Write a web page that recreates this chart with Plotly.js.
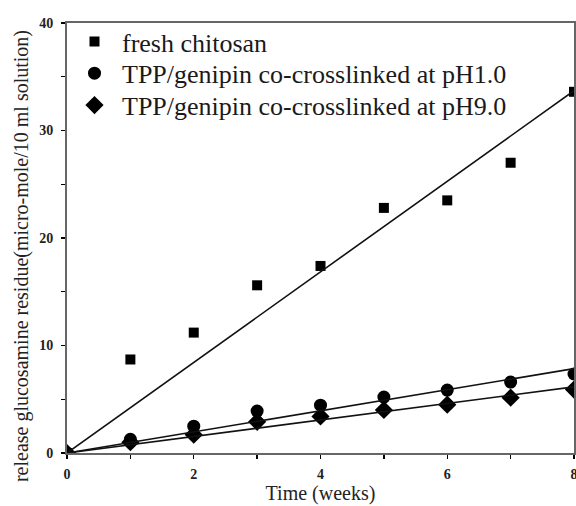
<!DOCTYPE html>
<html>
<head>
<meta charset="utf-8">
<script src="https://cdn.plot.ly/plotly-3.0.1.min.js"></script>
<style>html,body{margin:0;padding:0;background:#fff;}#chart{width:576px;height:506px;}</style>
</head>
<body>
<div id="chart"></div>
<script>
// Data
const weeks = [0, 1, 2, 3, 4, 5, 6, 7, 8];
const freshChitosan = [0, 8.7, 11.2, 15.6, 17.4, 22.8, 23.5, 27.0, 33.6];
const tppPH1 = [0, 1.27, 2.5, 3.9, 4.45, 5.2, 5.85, 6.6, 7.35];
const tppPH9 = [0, 1.0, 1.7, 2.9, 3.4, 4.0, 4.5, 5.15, 5.9];
const fitX = [0, 8];
const fitFresh = [0, 33.7];
const fitPH1 = [0, 7.85];
const fitPH9 = [0, 6.15];
const seriesNames = ['fresh chitosan', 'TPP/genipin co-crosslinked at pH1.0', 'TPP/genipin co-crosslinked at pH9.0'];
const xTicks = [0, 2, 4, 6, 8];
const xMinorTicks = [1, 3, 5, 7];
const yTicks = [0, 10, 20, 30, 40];
const yMinorTicks = [5, 15, 25, 35];
const xTitle = 'Time (weeks)';
const yTitle = 'release glucosamine residue(micro-mole/10 ml solution)';

const font = 'Liberation Serif, Times New Roman, serif';
const traces = [
  {x: weeks, y: freshChitosan, name: seriesNames[0], mode: 'markers', type: 'scatter', legend: 'legend',
   marker: {symbol: 'square', size: 10, color: '#000'}},
  {x: weeks, y: tppPH1, name: seriesNames[1], mode: 'markers', type: 'scatter', legend: 'legend2',
   marker: {symbol: 'circle', size: 13, color: '#000'}},
  {x: weeks, y: tppPH9, name: seriesNames[2], mode: 'markers', type: 'scatter', legend: 'legend3',
   marker: {symbol: 'diamond', size: 14, color: '#000'}},
  {x: fitX, y: fitFresh, mode: 'lines', showlegend: false, line: {color: '#111', width: 1.6}},
  {x: fitX, y: fitPH1, mode: 'lines', showlegend: false, line: {color: '#111', width: 1.6}},
  {x: fitX, y: fitPH9, mode: 'lines', showlegend: false, line: {color: '#111', width: 1.6}}
];

const axisCommon = {
  showgrid: false, zeroline: false, showline: true, mirror: true,
  linecolor: '#666', linewidth: 2,
  ticks: 'outside', ticklen: 4, tickwidth: 1.3, tickcolor: '#000',
  ticklabeloverflow: 'allow',
  tickfont: {family: font, size: 14, color: '#222', weight: 'bold'}
};

function legendAt(y) {
  return {
    x: 0, y: y, xanchor: 'left', yanchor: 'middle',
    bgcolor: 'rgba(0,0,0,0)', borderwidth: 0,
    font: {family: font, size: 26, color: '#1a1a1a'},
    itemwidth: 45
  };
}

const layout = {
  width: 576, height: 506,
  margin: {l: 67, r: 2, t: 23, b: 53},
  paper_bgcolor: '#fff', plot_bgcolor: '#fff',
  font: {family: font, color: '#222'},
  xaxis: Object.assign({}, axisCommon, {
    range: [0, 8], tickvals: xTicks, ticklabelstandoff: 3,
    minor: {tickvals: xMinorTicks, ticks: 'outside', ticklen: 4, tickcolor: '#000', tickwidth: 1.3},
    title: {text: xTitle, font: {family: font, size: 20, color: '#222'}, standoff: 5}
  }),
  yaxis: Object.assign({}, axisCommon, {
    range: [0, 40], tickvals: yTicks, ticklabelstandoff: 5,
    minor: {tickvals: yMinorTicks, ticks: 'outside', ticklen: 4, tickcolor: '#000', tickwidth: 1.3}
  }),
  annotations: [{
    text: yTitle, xref: 'paper', yref: 'paper', x: -0.0907, y: 0.458,
    xanchor: 'center', yanchor: 'middle', textangle: -90, showarrow: false,
    font: {family: font, size: 20, color: '#222'}
  }],
  legend: legendAt(0.9565),
  legend2: legendAt(0.883),
  legend3: legendAt(0.809),
  showlegend: true
};

Plotly.newPlot('chart', traces, layout, {displayModeBar: false, staticPlot: true});
</script>
</body>
</html>
